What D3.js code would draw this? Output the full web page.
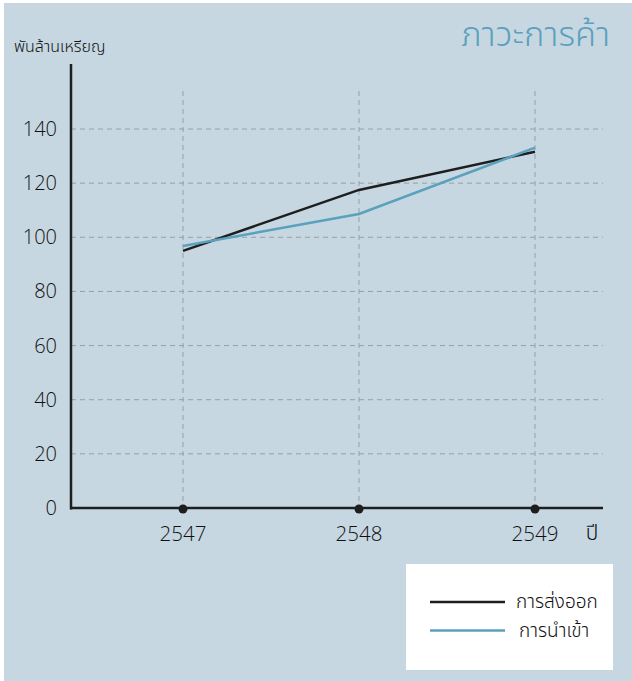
<!DOCTYPE html>
<html><head><meta charset="utf-8">
<script src="https://cdn.jsdelivr.net/npm/d3@7"></script>
<style>
html,body{margin:0;padding:0;background:#fff;}
svg{display:block;font-family:"Open Sans","Noto Sans Thai","Noto Sans",sans-serif;}
</style></head>
<body>
<script>
const years = [2547, 2548, 2549];
const exportsVals = [95.0, 117.5, 131.6];
const importsVals = [96.8, 108.6, 133.1];
const yTicks = [0, 20, 40, 60, 80, 100, 120, 140];
const seriesNames = ["การส่งออก", "การนำเข้า"];
const seriesColors = ["#1e1e1e", "#5aa1bd"];
const title = "ภาวะการค้า";
const yLabel = "พันล้านเหรียญ";
const xLabel = "ปี";

const W = 632, H = 681;
const svg = d3.select("body").append("svg").attr("width", W).attr("height", H);
svg.append("rect").attr("x", 4).attr("y", 3).attr("width", W - 4).attr("height", H - 3).attr("fill", "#c6d7e1");

const x = d3.scaleLinear().domain([2547, 2549]).range([183, 535]);
const y = d3.scaleLinear().domain([0, 140]).range([508, 129]);
const axisLeft = 71, axisRight = 603;
const gridColor = "#9a9ea3";

svg.append("g").selectAll("line").data(yTicks.filter(d => d > 0)).join("line")
  .attr("x1", axisLeft).attr("x2", axisRight)
  .attr("y1", d => y(d)).attr("y2", d => y(d))
  .attr("stroke", gridColor).attr("stroke-width", 1).attr("stroke-dasharray", "5,4");
svg.append("g").selectAll("line").data(years).join("line")
  .attr("x1", d => x(d)).attr("x2", d => x(d))
  .attr("y1", 91).attr("y2", y(0))
  .attr("stroke", gridColor).attr("stroke-width", 1).attr("stroke-dasharray", "5,4");

svg.append("g").selectAll("text").data(yTicks).join("text")
  .attr("x", 57).attr("y", d => y(d) + 7)
  .attr("text-anchor", "end").attr("font-size", 20).attr("font-weight", 300).attr("fill", "#111")
  .text(d => d);

svg.append("line").attr("x1", axisLeft).attr("x2", axisLeft).attr("y1", 64).attr("y2", y(0) + 1.5)
  .attr("stroke", "#1e1e1e").attr("stroke-width", 2.5);
svg.append("line").attr("x1", axisLeft - 1).attr("x2", axisRight).attr("y1", y(0)).attr("y2", y(0))
  .attr("stroke", "#1e1e1e").attr("stroke-width", 2.5);

svg.append("g").selectAll("circle").data(years).join("circle")
  .attr("cx", d => x(d)).attr("cy", y(0) + 1).attr("r", 4.5).attr("fill", "#1e1e1e");
svg.append("g").selectAll("text").data(years).join("text")
  .attr("x", d => x(d)).attr("y", 541).attr("text-anchor", "middle")
  .attr("font-size", 20.5).attr("font-weight", 300).attr("fill", "#111").text(d => d);
svg.append("text").attr("x", 592).attr("y", 540).attr("text-anchor", "middle")
  .attr("font-size", 21).attr("font-weight", 300).attr("fill", "#111").text(xLabel);

const line = d3.line().x((d, i) => x(years[i])).y(d => y(d));
[exportsVals, importsVals].forEach((vals, k) => {
  svg.append("path").datum(vals).attr("d", line).attr("fill", "none")
    .attr("stroke", seriesColors[k]).attr("stroke-width", 2.5);
});

svg.append("text").attr("x", 610).attr("y", 46).attr("text-anchor", "end")
  .attr("font-size", 34.5).attr("font-weight", 300).attr("fill", "#5aa1bd").text(title);
svg.append("text").attr("x", 14).attr("y", 52)
  .attr("font-size", 16).attr("font-weight", 300).attr("fill", "#111").text(yLabel);

svg.append("rect").attr("x", 406).attr("y", 564).attr("width", 207).attr("height", 106).attr("fill", "#fff");
seriesNames.forEach((n, k) => {
  const ly = 602 + k * 28.5;
  svg.append("line").attr("x1", 430).attr("x2", 505).attr("y1", ly).attr("y2", ly)
    .attr("stroke", seriesColors[k]).attr("stroke-width", 2.5);
  svg.append("text").attr("x", k === 0 ? 516 : 519).attr("y", ly + 6)
    .attr("font-size", 19).attr("font-weight", 300).attr("fill", "#111").text(n);
});
</script>
</body></html>
